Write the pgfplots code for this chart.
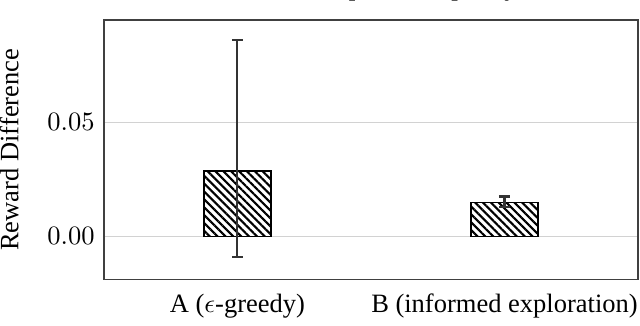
\documentclass[border=0pt]{standalone}
\usepackage{fontspec}
\setmainfont{Liberation Serif}
\usepackage{pgfplots}
\pgfplotsset{compat=1.18}
\usetikzlibrary{calc,patterns.meta}

\begin{document}
\begin{tikzpicture}
  \begin{axis}[
    scale only axis, width=201.5pt, height=98pt,
    ybar, bar width=25.4pt,
    xmin=-0.5, xmax=1.5, ymin=-0.019, ymax=0.095,
    xtick={0,1}, xticklabels={A ($\epsilon$-greedy), B (informed exploration)},
    x tick label style={yshift=-2pt},
    ytick={0,0.05}, scaled y ticks=false,
    y tick label style={/pgf/number format/fixed, /pgf/number format/fixed zerofill, /pgf/number format/precision=2},
    major tick length=0pt,
    ymajorgrids, grid style={gray!35, line width=0.5pt},
    axis line style={black!75, line width=0.6pt},
    ylabel={Reward Difference}, ylabel shift=4pt,
    title={Effect of exploration policy},
    every axis title/.style={at={(0.5,1)}, anchor=base, yshift=9.2pt},
    clip=false]
    \addplot[draw=black, line width=0.6pt,
      pattern={Lines[angle=-45, distance=2.1pt, line width=0.8pt]},
      error bars/.cd, y dir=both, y explicit,
      error bar style={black!80, line width=0.8pt},
      error mark options={rotate=90, mark size=2.1pt, black!80, line width=0.8pt}]
      coordinates {
        (0,0.0288) += (0,0.0575) -= (0,0.0380)
        (1,0.0149) += (0,0.0026) -= (0,0.0022)
      };
  \end{axis}
  \pgfresetboundingbox
  \path ($(current axis.south west)+(-39.2pt,-17.4pt)$) rectangle ($(current axis.north east)+(0.75pt,7.5pt)$);
\end{tikzpicture}
\end{document}
